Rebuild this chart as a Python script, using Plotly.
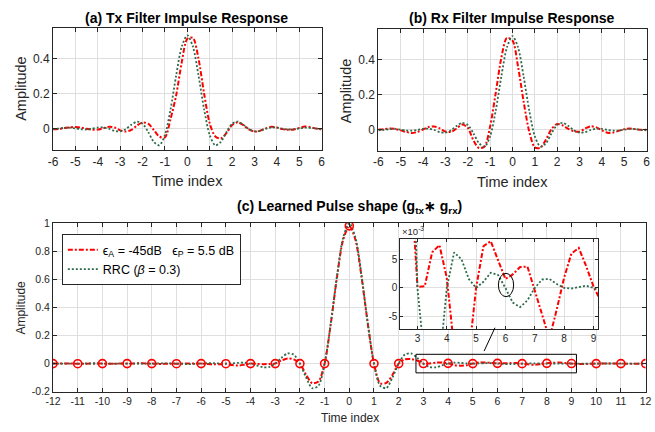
import plotly.graph_objects as go

# ---------------- data ----------------
t_filter = [round(-6 + 0.25 * i, 2) for i in range(49)]
t_pulse = [round(-12 + 0.25 * i, 2) for i in range(97)]

# RRC (beta = 0.3) filter impulse response, shown in panels (a) and (b)
rrc_filter = [-0.003, 0.000, 0.004, 0.005, 0.001, -0.004, -0.005, -0.001, 0.006, 0.007,
              -0.001, -0.013, -0.016, -0.003, 0.022, 0.040, 0.028, -0.019, -0.076, -0.096,
              -0.037, 0.110, 0.304, 0.470, 0.535, 0.470, 0.304, 0.110, -0.037, -0.096,
              -0.076, -0.019, 0.028, 0.040, 0.022, -0.003, -0.016, -0.013, -0.001, 0.007,
              0.006, -0.001, -0.005, -0.004, 0.001, 0.005, 0.004, 0.000, -0.003]

# learned Tx filter
tx_learned = [-0.004, -0.002, 0.003, 0.007, 0.009, 0.006, -0.001, -0.007, -0.006, 0.002,
              0.010, 0.006, -0.010, -0.017, -0.008, 0.018, 0.035, 0.028, -0.008, -0.046,
              -0.050, 0.055, 0.190, 0.380, 0.515, 0.520, 0.400, 0.200, 0.030, -0.045,
              -0.057, -0.025, 0.020, 0.036, 0.020, -0.005, -0.017, -0.012, 0.001, 0.010,
              0.006, -0.003, -0.007, -0.005, 0.004, 0.012, 0.008, 0.000, -0.004]

# learned Rx filter
rx_learned = [0.002, 0.004, 0.007, 0.005, -0.003, -0.012, -0.018, -0.012, 0.002, 0.016,
              0.019, 0.008, -0.010, -0.012, 0.008, 0.030, 0.012, -0.060, -0.104, -0.095,
              0.020, 0.210, 0.410, 0.525, 0.510, 0.360, 0.160, -0.010, -0.100, -0.102,
              -0.055, 0.005, 0.033, 0.025, 0.005, -0.008, -0.011, 0.008, 0.020, 0.014,
              -0.003, -0.017, -0.016, -0.006, 0.004, 0.007, 0.004, 0.000, 0.000]

# learned overall pulse (g_tx * g_rx)
pulse_learned = [0.000, 0.001, 0.001, 0.000, -0.001, -0.001, 0.000, 0.001, 0.000, -0.001,
                 -0.001, 0.000, 0.000, 0.001, 0.002, 0.001, 0.000, -0.002, -0.002, -0.001,
                 -0.001, 0.000, 0.001, 0.001, 0.000, -0.003, -0.005, -0.004, -0.001, -0.010,
                 -0.014, -0.008, 0.000, -0.002, -0.004, -0.003, 0.000, 0.022, 0.036, 0.030,
                 0.000, -0.080, -0.140, -0.128, 0.000, 0.282, 0.612, 0.880,
                 0.980,
                 0.880, 0.612, 0.282, 0.000, -0.140, -0.138, -0.080, 0.000, 0.030, 0.032,
                 0.022, 0.0002, 0.0003, 0.0063, 0.0076, 0.0018, -0.0105, -0.0150, -0.0120, 0.0000,
                 0.0074, 0.0083, 0.0049, 0.0016, 0.0024, 0.0037, 0.0038, -0.0006, -0.0050, -0.0090,
                 -0.0038, 0.0018, 0.0061, 0.0071, 0.0039, 0.0003, -0.0023, -0.0030, -0.0015, 0.0000,
                 0.0012, 0.0015, 0.0008, 0.0000, -0.0006, -0.0008, -0.0003, 0.0000]

# RRC * RRC overall pulse
pulse_rc = [0.000, 0.000, -0.0001, -0.0002, 0.000, 0.0004, 0.0007, 0.0006, 0.000, -0.0007,
            -0.0010, -0.0006, 0.000, 0.0004, 0.0002, -0.0001, 0.000, 0.0007, 0.0016, 0.0015,
            0.000, -0.0022, -0.0034, -0.0026, 0.000, 0.0023, 0.0027, 0.0011, 0.000, 0.0016,
            0.0051, 0.0063, 0.000, -0.0137, -0.0263, -0.0246, 0.000, 0.041, 0.072, 0.064,
            0.000, -0.099, -0.175, -0.158, 0.000, 0.286, 0.623, 0.896,
            1.000,
            0.896, 0.623, 0.286, 0.000, -0.158, -0.175, -0.099, 0.000, 0.064, 0.072,
            0.041, 0.000, -0.0246, -0.0263, -0.0137, 0.000, 0.0063, 0.0051, 0.0016, 0.000,
            0.0011, 0.0027, 0.0023, 0.000, -0.0026, -0.0034, -0.0022, 0.000, 0.0015, 0.0016,
            0.0007, 0.000, -0.0001, 0.0002, 0.0004, 0.000, -0.0006, -0.0010, -0.0007, 0.000,
            0.0006, 0.0007, 0.0004, 0.000, -0.0002, -0.0001, 0.000, 0.000]

filter_xticks = list(range(-6, 7))
filter_xticktext = [str(v) for v in filter_xticks]
filter_yticks = [0, 0.2, 0.4]
filter_yticktext = ["0", "0.2", "0.4"]
pulse_xticks = list(range(-12, 13))
pulse_xticktext = [str(v) for v in pulse_xticks]
pulse_yticks = [-0.2, 0, 0.2, 0.4, 0.6, 0.8, 1]
pulse_yticktext = ["-0.2", "0", "0.2", "0.4", "0.6", "0.8", "1"]
inset_xticks = list(range(3, 10))
inset_xticktext = [str(v) for v in inset_xticks]
inset_yticks = [-0.005, 0, 0.005]
inset_yticktext = ["-5", "0", "5"]

label_learned = "ϵ<sub>A</sub> = -45dB&nbsp;&nbsp;&nbsp;ϵ<sub>P</sub> = 5.5 dB"
label_rrc = "RRC (<i>β</i> = 0.3)"

# ---------------- style ----------------
W, H = 655, 432
FONT = "Liberation Sans, Arial, Helvetica, sans-serif"
AX = "#262626"
GRID = "#dfdfdf"
RED = "#ff0000"
GREEN = "#2e6b4b"
DASHDOT = "5px,2px,2px,2px"
DOTS = "2px,2px"


def fx(p):
    return p / W


def fy(p):
    return 1 - p / H


def axis_style(size=12, **kw):
    base = dict(showline=True, linecolor=AX, linewidth=1, mirror="ticks",
                ticks="inside", ticklen=4, tickcolor=AX, tickwidth=1,
                showgrid=True, gridcolor=GRID, gridwidth=1, zeroline=False,
                ticklabeloverflow="allow",
                tickfont=dict(family=FONT, size=size, color=AX))
    base.update(kw)
    return base


red_line = dict(color=RED, width=2, dash=DASHDOT, shape="spline", smoothing=0.8)
green_line = dict(color=GREEN, width=1.8, dash=DOTS, shape="spline", smoothing=0.8)

fig = go.Figure()

# (a)
fig.add_trace(go.Scatter(x=t_filter, y=tx_learned, xaxis="x", yaxis="y", mode="lines",
                         line=red_line, showlegend=False))
fig.add_trace(go.Scatter(x=t_filter, y=rrc_filter, xaxis="x", yaxis="y", mode="lines",
                         line=green_line, showlegend=False))
# (b)
fig.add_trace(go.Scatter(x=t_filter, y=rx_learned, xaxis="x2", yaxis="y2", mode="lines",
                         line=red_line, showlegend=False))
fig.add_trace(go.Scatter(x=t_filter, y=rrc_filter, xaxis="x2", yaxis="y2", mode="lines",
                         line=green_line, showlegend=False))
# (c)
fig.add_trace(go.Scatter(x=t_pulse, y=pulse_learned, xaxis="x3", yaxis="y3", mode="lines",
                         line=red_line, name=label_learned))
fig.add_trace(go.Scatter(x=t_pulse, y=pulse_rc, xaxis="x3", yaxis="y3", mode="lines",
                         line=green_line, name=label_rrc))
fig.add_trace(go.Scatter(x=t_pulse[::4], y=pulse_learned[::4], xaxis="x3", yaxis="y3",
                         mode="markers", showlegend=False,
                         marker=dict(symbol="circle-open", size=8, color=RED,
                                     line=dict(width=1.6, color=RED))))
# inset
fig.add_trace(go.Scatter(x=t_pulse, y=pulse_learned, xaxis="x4", yaxis="y4", mode="lines",
                         line=dict(color=RED, width=2, dash=DASHDOT), showlegend=False))
fig.add_trace(go.Scatter(x=t_pulse, y=pulse_rc, xaxis="x4", yaxis="y4", mode="lines",
                         line=dict(color=GREEN, width=1.8, dash=DOTS), showlegend=False))

fig.update_layout(
    width=W, height=H, autosize=False,
    margin=dict(l=0, r=0, t=0, b=0),
    paper_bgcolor="white", plot_bgcolor="white",
    font=dict(family=FONT, color=AX),
    xaxis=axis_style(domain=[fx(46), fx(320.5)], range=[-6, 6], tickvals=filter_xticks,
                     ticktext=filter_xticktext, anchor="y"),
    yaxis=axis_style(domain=[fy(148.5), fy(23)], range=[-0.125, 0.575], tickvals=filter_yticks,
                     ticktext=filter_yticktext, anchor="x"),
    xaxis2=axis_style(domain=[fx(378.5), fx(652.5)], range=[-6, 6], tickvals=filter_xticks,
                      ticktext=filter_xticktext, anchor="y2"),
    yaxis2=axis_style(domain=[fy(149), fy(23.7)], range=[-0.12, 0.575], tickvals=filter_yticks,
                      ticktext=filter_yticktext, anchor="x2"),
    xaxis3=axis_style(size=10.5, domain=[fx(46), fx(651.5)], range=[-12, 12], tickvals=pulse_xticks,
                      ticktext=pulse_xticktext, anchor="y3"),
    yaxis3=axis_style(size=10.5, domain=[fy(396.7), fy(223.3)], range=[-0.2, 1], tickvals=pulse_yticks,
                      ticktext=pulse_yticktext, anchor="x3"),
    xaxis4=axis_style(size=10, domain=[fx(401), fx(603.3)], range=[2.42, 9.17], tickvals=inset_xticks,
                      ticktext=inset_xticktext, anchor="y4", ticklen=3),
    yaxis4=axis_style(size=10, domain=[fy(332.7), fy(240)], range=[-0.00736, 0.00862],
                      tickvals=inset_yticks, ticktext=inset_yticktext, anchor="x4", ticklen=3),
    legend=dict(x=fx(55), y=fy(234.7), xanchor="left", yanchor="top",
                bgcolor="white", bordercolor=AX, borderwidth=1,
                font=dict(family=FONT, size=12.5, color="#000000"),
                tracegroupgap=0, itemwidth=30),
    shapes=[
        dict(type="rect", xref="x3", yref="y3", x0=2.7, x1=9.2, y0=-0.066, y1=0.066,
             line=dict(color="#000000", width=1), layer="above"),
        dict(type="line", xref="x3", yref="y3", x0=5.46, y0=0.089, x1=5.9, y1=0.255,
             line=dict(color="#000000", width=1), layer="above"),
        dict(type="circle", xref="x4", yref="y4", x0=5.76, x1=6.28, y0=-0.00155, y1=0.00259,
             line=dict(color="#000000", width=1), layer="above"),
    ],
)

ann = []


def add_text(text, x, y, size, bold=False, angle=0, color=AX, xanchor="center", yanchor="middle"):
    ann.append(dict(text=("<b>%s</b>" % text) if bold else text, x=fx(x), y=fy(y),
                    xref="paper", yref="paper", showarrow=False, textangle=angle,
                    xanchor=xanchor, yanchor=yanchor,
                    font=dict(family=FONT, size=size, color=color)))


add_text("(a) Tx Filter Impulse Response", 182.5, 12.7, 14, bold=True, color="#000000")
add_text("(b) Rx Filter Impulse Response", 515, 12.7, 14, bold=True, color="#000000")
add_text("(c) Learned Pulse shape (g<sub>tx</sub>∗ g<sub>rx</sub>)", 349, 206.7, 14, bold=True,
         color="#000000")
add_text("Time index", 183.2, 180.5, 14.5)
add_text("Time index", 515.3, 181.5, 14.5)
add_text("Time index", 349, 423.5, 12)
add_text("Amplitude", 13, 85.5, 14.5, angle=-90)
add_text("Amplitude", 345, 88, 14.5, angle=-90)
add_text("Amplitude", 13.5, 310, 12, angle=-90)
add_text("×10<sup>-3</sup>", 401, 240, 9.5, xanchor="left", yanchor="bottom")

fig.update_layout(annotations=ann)

fig.write_html("out.html", config={"displayModeBar": False},
               post_script="document.body.style.margin='0px';document.body.style.overflow='hidden';")
